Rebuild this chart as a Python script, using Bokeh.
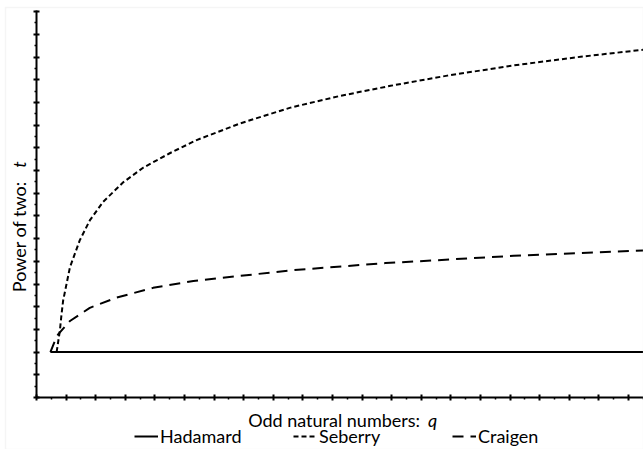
import math
from bokeh.plotting import figure
from bokeh.models import Label, Legend, LegendItem, FixedTicker, Range1d, LinearAxis, BoxAnnotation
from bokeh.embed import file_html
from bokeh.resources import INLINE

# ---- data ----
hadamard_q = [4.7, 206]
hadamard_t = [2.0, 2.0]

seberry_q = [6.8, 7.9, 8.4, 9.0, 11.3, 14.6, 18.0, 22.5, 29.3, 36.0, 45.0, 54.1,
             68.9, 85.8, 102.7, 119.6, 138.8, 161.2, 183.8, 205]
seberry_t = [2.0, 2.95, 3.6, 4.27, 5.74, 6.92, 7.80, 8.62, 9.48, 10.12, 10.76, 11.34,
             12.08, 12.77, 13.29, 13.73, 14.18, 14.63, 15.01, 15.32]

craigen_q = [4.7, 6.4, 7.3, 11.3, 18.0, 27.0, 39.4, 53.0, 85.8, 117.9, 161.2, 205]
craigen_t = [2.0, 2.55, 2.78, 3.37, 3.95, 4.40, 4.83, 5.13, 5.60, 5.92, 6.24, 6.48]

x_major = list(range(0, 210, 10))
x_minor = list(range(5, 210, 10))
y_major = list(range(0, 18))
y_minor = [k + 0.5 for k in range(17)]

FONT = "Lato"
FS = "18px"

# frame spans the whole canvas; axes are pinned at q = 0 and t = 0
p = figure(width=643, height=449, output_backend="svg", toolbar_location=None,
           x_range=Range1d(-12.162, 205.07), y_range=Range1d(-2.2907, 17.489),
           x_axis_location=None, y_axis_location=None,
           min_border=0, min_border_left=0, min_border_right=0,
           min_border_top=0, min_border_bottom=0)
p.outline_line_color = None
p.grid.visible = False
p.background_fill_color = "white"
p.border_fill_color = "white"

# faint picture border (top and left) as in the reference
p.add_layout(BoxAnnotation(left=-10.47, top=17.18, fill_alpha=0, fill_color=None,
                           line_color="#dedede", line_width=1.5))

xaxis = LinearAxis(fixed_location=0, bounds=(0, 205.07),
                   ticker=FixedTicker(ticks=x_major, minor_ticks=x_minor))
yaxis = LinearAxis(fixed_location=0, bounds=(0, 17.05),
                   ticker=FixedTicker(ticks=y_major, minor_ticks=y_minor))
for ax in (xaxis, yaxis):
    ax.axis_line_width = 2
    ax.axis_line_color = "black"
    ax.major_tick_line_width = 2
    ax.major_tick_line_color = "black"
    ax.major_tick_in = 3
    ax.major_tick_out = 3
    ax.minor_tick_line_width = 1.5
    ax.minor_tick_line_color = "black"
    ax.minor_tick_in = 0
    ax.minor_tick_out = 2
    ax.major_label_text_font_size = "0px"
    ax.major_label_text_color = None
    ax.major_label_standoff = 0
p.add_layout(xaxis, "below")
p.add_layout(yaxis, "left")

r_h = p.line(hadamard_q, hadamard_t, line_color="black", line_width=2)
r_s = p.line(seberry_q, seberry_t, line_color="black", line_width=2, line_dash="5 3")
r_c = p.line(craigen_q, craigen_t, line_color="black", line_width=2, line_dash="11 7")

# axis titles
p.add_layout(Label(x=71.52, y=-1.013, text="Odd natural numbers:", text_font=FONT,
                   text_font_size=FS, text_color="black",
                   text_align="left", text_baseline="alphabetic"))
p.add_layout(Label(x=132.3, y=-1.013, text="q", text_font=FONT, text_font_style="italic",
                   text_font_size=FS, text_color="black",
                   text_align="left", text_baseline="alphabetic"))
p.add_layout(Label(x=-5.88, y=4.64, text="Power of two:", angle=math.pi / 2,
                   text_font=FONT, text_font_size=FS, text_color="black",
                   text_align="left", text_baseline="alphabetic"))
p.add_layout(Label(x=-5.88, y=10.12, text="t", angle=math.pi / 2,
                   text_font=FONT, text_font_style="italic", text_font_size=FS,
                   text_color="black", text_align="left", text_baseline="alphabetic"))

legend = Legend(items=[LegendItem(label="Hadamard", renderers=[r_h]),
                       LegendItem(label="Seberry", renderers=[r_s]),
                       LegendItem(label="Craigen", renderers=[r_c])],
                location=(134, 2), orientation="horizontal",
                border_line_color=None, background_fill_alpha=0,
                padding=0, margin=0, spacing=33, glyph_width=24, glyph_height=18,
                label_height=18, label_standoff=2, label_width=100,
                label_text_font=FONT, label_text_font_size=FS,
                label_text_color="black")
p.add_layout(legend)

open("out.html", "w").write(file_html(p, INLINE))
